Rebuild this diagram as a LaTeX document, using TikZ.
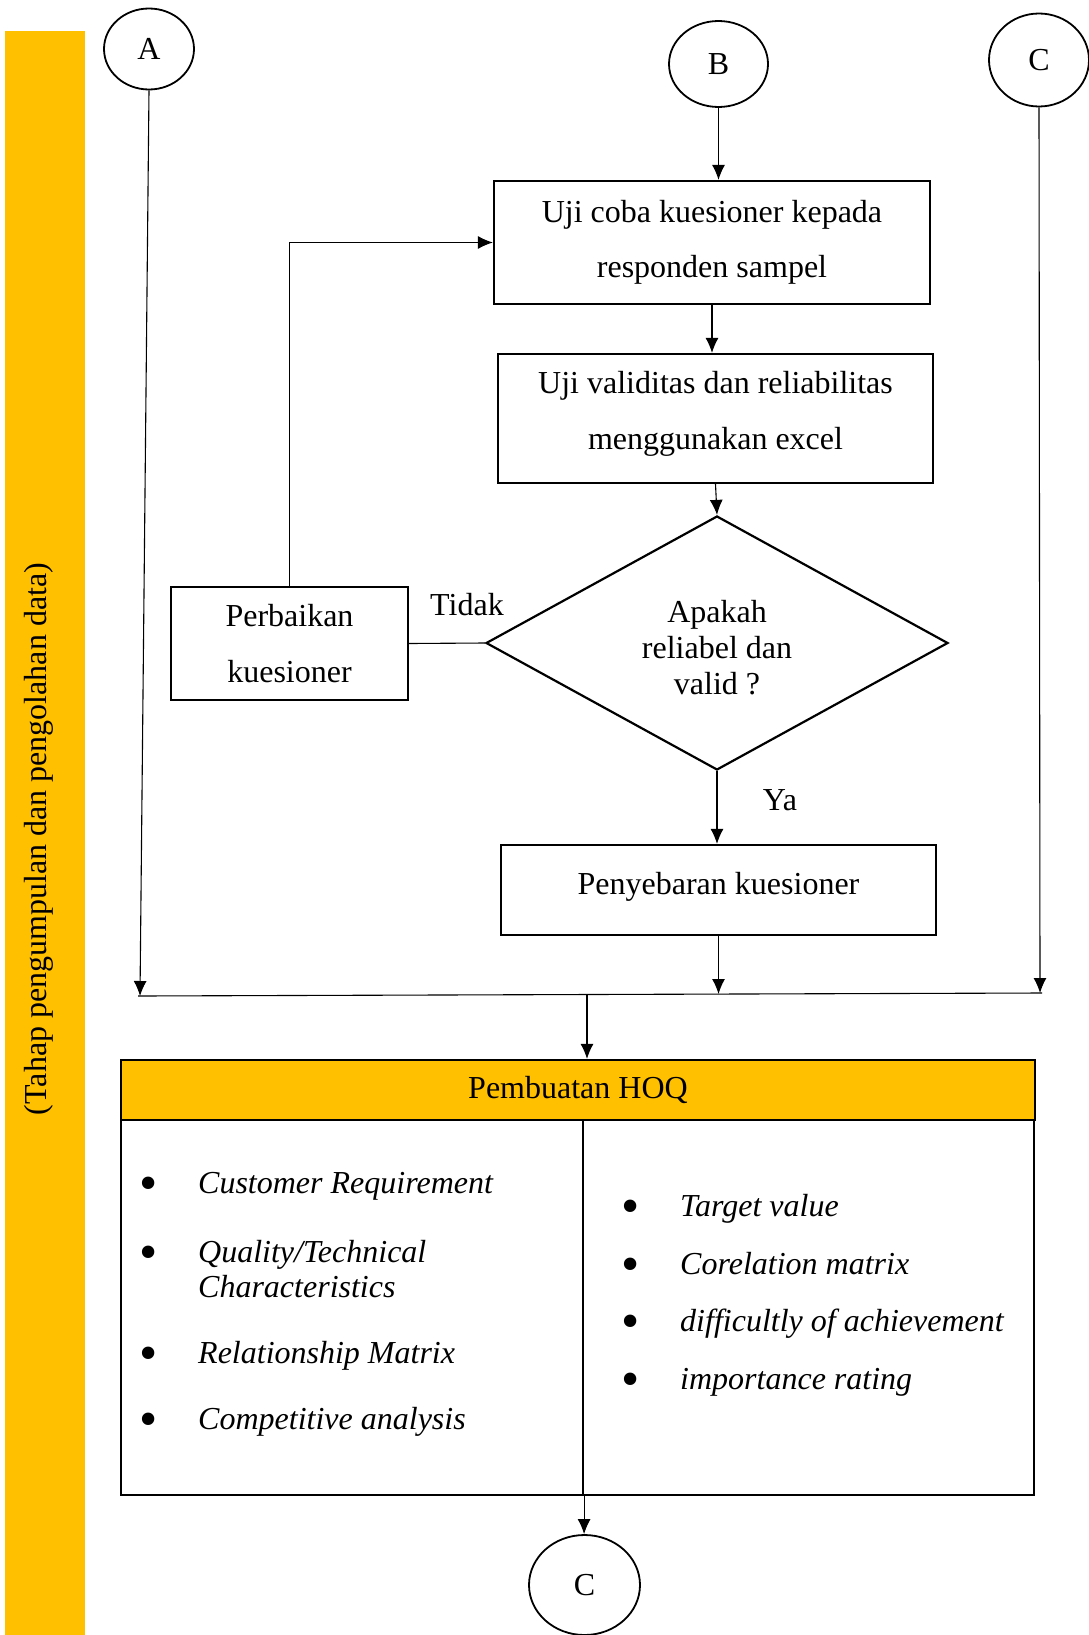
\documentclass[tikz,border=0pt]{standalone}
\usepackage{fontspec}
\setmainfont{Liberation Serif}
\usetikzlibrary{shapes.geometric,arrows.meta}
\definecolor{hoqgold}{HTML}{FFC000}

\begin{document}
\begin{tikzpicture}[x=1pt,y=-1pt,
  font=\fontsize{32}{38}\selectfont,
  every node/.style={inner sep=0pt},
  stepbox/.style={draw,rectangle,line width=2.2pt,align=center},
  conn/.style={line width=1.1pt},
  arr/.style={conn,-{Latex[length=15pt,width=13pt]}},
  connector/.style={draw,ellipse,line width=1.8pt},
  bullet/.style={anchor=base,font=\fontsize{52}{52}\selectfont},
  item/.style={anchor=base west,align=left,font=\fontsize{32}{35}\selectfont\itshape},
]
\useasboundingbox (0,0) rectangle (1089,1635);

% phase band on the left
\fill[hoqgold] (5,31) rectangle (85,1635);
\node[rotate=90] (phase) at (39,839) {(Tahap pengumpulan dan pengolahan data)};

% off-page connectors
\node[connector,minimum width=90pt,minimum height=81pt] (A) at (149,49) {A};
\node[connector,minimum width=99pt,minimum height=86pt] (B) at (718.5,64) {B};
\node[connector,minimum width=100pt,minimum height=93pt] (Ctop) at (1039,60) {C};

% process steps
\node[stepbox,minimum width=436pt,minimum height=123pt,font=\fontsize{32}{55}\selectfont]
  (trial) at (712,242.5) {Uji coba kuesioner kepada\\responden sampel};
\node[stepbox,minimum width=435pt,minimum height=129pt] (valid) at (715.5,418.5) {};
\node[align=center,font=\fontsize{32}{56}\selectfont] (validtext) at (715.5,414)
  {Uji validitas dan reliabilitas\\menggunakan excel};
\node[draw,diamond,line width=2.2pt,minimum width=462pt,minimum height=254pt] (check) at (717,643) {};
\node[align=center,font=\fontsize{32}{36}\selectfont] (checktext) at (717,648) {Apakah\\reliabel dan\\valid ?};
\node[stepbox,minimum width=237pt,minimum height=113pt,font=\fontsize{32}{56}\selectfont]
  (fix) at (289.5,643.5) {Perbaikan\\kuesioner};
\node[stepbox,minimum width=435pt,minimum height=90pt]
  (spread) at (718.5,890) {\raisebox{13pt}{Penyebaran kuesioner}};

\node (no) at (467,605) {Tidak};
\node (yes) at (780,800) {Ya};

% flow arrows
\draw[arr] (B.south) -- (B.south |- trial.north);
\draw[arr] (trial.south) -- (trial.south |- valid.north);
\draw[arr] (valid.south) -- (check.north);
\draw[arr] (check.south) -- (check.south |- spread.north);
\draw[conn] (check.west) -- (fix.east);
\draw[arr] (fix.north) |- (trial.west);

% merge line
\coordinate (mergeL) at (138,996);
\coordinate (mergeR) at (1042,993);
\coordinate (mergeA) at (140,996);
\coordinate (mergeS) at (718.5,994);
\coordinate (mergeC) at (1040,993);
\coordinate (drop) at (587,995);
\draw[conn] (mergeL) -- (mergeR);
\draw[arr] (A.south) -- (mergeA);
\draw[arr] (spread.south) -- (mergeS);
\draw[arr] (Ctop.south) -- (mergeC);

% house of quality block
\node[draw,fill=hoqgold,line width=2.2pt,minimum width=914pt,minimum height=60pt]
  (hoqhead) at (578,1090) {Pembuatan HOQ};
\node[draw,line width=2.2pt,minimum width=462pt,minimum height=375pt] (hoqL) at (352,1307.5) {};
\node[draw,line width=2.2pt,minimum width=451pt,minimum height=375pt] (hoqR) at (808.5,1307.5) {};
\draw[arr] (drop) -- (drop |- hoqhead.north);

% left column items
\node[bullet] (bl1) at (149,1200) {\textbullet};
\node[item] (il1) at (198,1193) {Customer Requirement};
\node[bullet] (bl2) at (149,1269) {\textbullet};
\node[item] (il2) at (198,1297) {Quality/Technical\\Characteristics};
\node[bullet] (bl3) at (149,1370) {\textbullet};
\node[item] (il3) at (198,1363) {Relationship Matrix};
\node[bullet] (bl4) at (149,1436) {\textbullet};
\node[item] (il4) at (198,1429) {Competitive analysis};

% right column items
\node[bullet] (br1) at (631,1223) {\textbullet};
\node[item] (ir1) at (680,1216) {Target value};
\node[bullet] (br2) at (631,1281) {\textbullet};
\node[item] (ir2) at (680,1274) {Corelation matrix};
\node[bullet] (br3) at (631,1338) {\textbullet};
\node[item] (ir3) at (680,1331) {difficultly of achievement};
\node[bullet] (br4) at (631,1396) {\textbullet};
\node[item] (ir4) at (680,1389) {importance rating};

% exit connector
\node[connector,minimum width=111pt,minimum height=100pt] (Cbot) at (584.5,1585) {C};
\draw[arr] (hoqL.south east) -- (hoqL.south east |- Cbot.north);
\end{tikzpicture}
\end{document}
